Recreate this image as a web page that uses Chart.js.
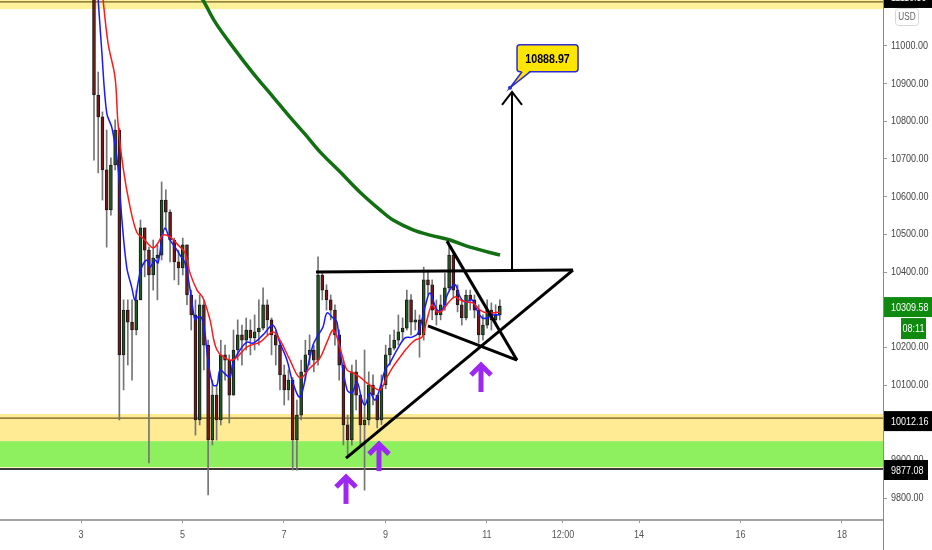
<!DOCTYPE html>
<html>
<head>
<meta charset="utf-8">
<script src="https://cdn.jsdelivr.net/npm/chart.js@4.4.1/dist/chart.umd.min.js"></script>
<style>
  html, body { margin: 0; padding: 0; background: #fff; }
  #wrap { width: 932px; height: 550px; position: relative; }
</style>
</head>
<body>
<div id="wrap"><canvas id="c"></canvas></div>
<script>
// ---------- Datos ----------
// Eje de tiempo (días del mes) y de precio
const dateTicks = [3, 5, 7, 9, 11, 12.5, 14, 16, 18];
const dateLabels = ['3', '5', '7', '9', '11', '12:00', '14', '16', '18'];
const priceTicks = [9800, 9900, 10000, 10100, 10200, 10300, 10400, 10500, 10600, 10700, 10800, 10900, 11000];

// Velas de 2 horas: la apertura de cada vela es el cierre anterior
const candleStart = 3.256;
const candleStep = 1 / 12;
const firstOpen = 11202;
const closes = [10870, 10812, 10671, 10565, 10684, 10777, 10180, 10299, 10267, 10246,
  10326, 10517, 10458, 10392, 10437, 10445, 10591, 10559, 10485, 10427,
  10411, 10472, 10339, 10286, 10007, 10313, 10206, 9954, 10073, 10007,
  10180, 10166, 10073, 10193, 10233, 10219, 10246, 10225, 10241, 10251,
  10313, 10273, 10233, 10206, 10127, 10087, 10113, 9954, 10020, 10135,
  10180, 10193, 10166, 10392, 10352, 10326, 10299, 10233, 10153, 9994,
  9954, 10135, 10073, 9994, 10007, 10100, 10073, 10007, 10100, 10180,
  10198, 10219, 10241, 10251, 10326, 10267, 10273, 10233, 10379, 10366,
  10299, 10286, 10313, 10358, 10445, 10352, 10313, 10278, 10339, 10326,
  10299, 10233, 10259, 10299, 10273, 10286, 10309.58];
const highs = [11281, 10931, 10825, 10777, 10703, 10804, 10782, 10326, 10326, 10326,
  10352, 10538, 10517, 10466, 10485, 10472, 10639, 10618, 10565, 10490,
  10458, 10490, 10472, 10352, 10326, 10339, 10326, 10219, 10113, 10100,
  10219, 10206, 10180, 10246, 10273, 10259, 10278, 10273, 10286, 10326,
  10358, 10326, 10278, 10246, 10214, 10153, 10140, 10120, 10060, 10166,
  10219, 10233, 10206, 10440, 10400, 10366, 10339, 10313, 10246, 10166,
  10020, 10153, 10166, 10073, 10193, 10135, 10127, 10073, 10127, 10206,
  10233, 10246, 10286, 10278, 10352, 10340, 10299, 10286, 10413, 10405,
  10379, 10326, 10339, 10397, 10477, 10455, 10366, 10326, 10352, 10352,
  10339, 10313, 10286, 10326, 10318, 10313, 10326];
const lows = [10697, 10663, 10591, 10466, 10551, 10671, 10007, 10087, 10153, 10113,
  10233, 10326, 10387, 9893, 10352, 10326, 10432, 10512, 10427, 10379,
  10366, 10392, 10313, 10246, 9967, 9994, 10140, 9808, 9941, 9954,
  9994, 10113, 9999, 10073, 10166, 10153, 10193, 10180, 10193, 10206,
  10246, 10233, 10180, 10153, 10087, 10047, 10060, 9874, 9874, 10007,
  10113, 10153, 10135, 10153, 10326, 10299, 10273, 10206, 10113, 9941,
  9909, 9940, 10034, 9941, 9821, 9994, 10047, 9986, 9995, 10090,
  10153, 10193, 10206, 10219, 10246, 10233, 10246, 10174, 10219, 10339,
  10273, 10259, 10273, 10299, 10352, 10331, 10294, 10259, 10273, 10299,
  10278, 10211, 10219, 10251, 10246, 10259, 10273];

// Medias móviles
const blueDays = [3.32, 3.408, 3.507, 3.611, 3.729, 3.802, 3.901, 3.999, 4.064, 4.124,
  4.197, 4.301, 4.360, 4.459, 4.518, 4.591, 4.656, 4.754, 4.853, 4.952,
  5.050, 5.109, 5.182, 5.247, 5.306, 5.379, 5.444, 5.503, 5.602, 5.681,
  5.740, 5.858, 5.937, 5.996, 6.134, 6.272, 6.391, 6.588, 6.785, 6.923,
  7.061, 7.179, 7.317, 7.455, 7.573, 7.652, 7.770, 7.849, 7.967, 8.046,
  8.106, 8.244, 8.342, 8.441, 8.539, 8.598, 8.697, 8.796, 8.894, 8.993,
  9.091, 9.229, 9.387, 9.525, 9.643, 9.781, 9.880, 10.018, 10.116, 10.235,
  10.373, 10.472, 10.570, 10.708, 10.806, 10.905, 11.004, 11.122, 11.260];
const bluePrices = [11160, 10989, 10822, 10782, 10679, 10546, 10413, 10360, 10326, 10371,
  10413, 10432, 10413, 10432, 10424, 10485, 10517, 10485, 10466, 10445,
  10424, 10387, 10326, 10273, 10281, 10278, 10238, 10166, 10100, 10100,
  10140, 10127, 10121, 10159, 10193, 10214, 10211, 10233, 10259, 10211,
  10166, 10105, 10068, 10140, 10206, 10227, 10254, 10291, 10278, 10267,
  10193, 10087, 10079, 10108, 10060, 10047, 10079, 10060, 10092, 10140,
  10159, 10193, 10225, 10227, 10238, 10307, 10344, 10299, 10299, 10344,
  10366, 10334, 10320, 10326, 10299, 10278, 10278, 10286, 10286];
const redDays = [3.40, 3.532, 3.670, 3.729, 3.828, 3.966, 4.104, 4.222, 4.419, 4.518,
  4.616, 4.754, 4.912, 5.050, 5.149, 5.287, 5.405, 5.543, 5.681, 5.937,
  6.075, 6.272, 6.529, 6.785, 6.923, 7.120, 7.317, 7.514, 7.711, 7.849,
  7.967, 8.046, 8.145, 8.244, 8.362, 8.500, 8.638, 8.756, 8.894, 9.032,
  9.150, 9.288, 9.426, 9.584, 9.722, 9.820, 9.919, 10.018, 10.136, 10.235,
  10.373, 10.472, 10.610, 10.727, 10.865, 11.023, 11.260];
const redPrices = [11170, 11008, 10918, 10796, 10679, 10573, 10504, 10490, 10464, 10477,
  10498, 10493, 10472, 10451, 10397, 10352, 10331, 10273, 10193, 10166,
  10174, 10201, 10214, 10241, 10219, 10166, 10119, 10145, 10172, 10214,
  10246, 10227, 10180, 10140, 10132, 10121, 10105, 10095, 10087, 10121,
  10148, 10174, 10198, 10219, 10227, 10273, 10313, 10294, 10299, 10318,
  10334, 10326, 10320, 10318, 10299, 10291, 10294];
const greenDays = [5.149, 5.405, 5.641, 5.996, 6.391, 6.785, 7.120, 7.416, 7.711, 8.106,
  8.500, 8.894, 9.150, 9.544, 9.880, 10.274, 10.668, 11.260];
const greenPrices = [11175, 11122, 11064, 10997, 10928, 10865, 10811, 10766, 10719, 10666,
  10612, 10565, 10538, 10512, 10498, 10485, 10466, 10445];

// Dibujos: triángulo, bandera y flecha objetivo
const resistanceDays = [7.632, 12.698];
const resistancePrices = [10400, 10405];
const supportDays = [8.224, 12.698];
const supportPrices = [9906, 10405];
const flagTopDays = [10.214, 11.595];
const flagTopPrices = [10482, 10166];
const flagBottomDays = [9.840, 11.595];
const flagBottomPrices = [10257, 10166];
const targetArrowDays = [11.496, 11.496];
const targetArrowPrices = [10400, 10878];
const targetDay = 11.457;
const targetPrice = 10888.97;

// Flechas moradas (punta)
const upArrowDays = [8.224, 8.874, 10.885];
const upArrowPrices = [9864, 9951, 10161];

// Zonas y niveles
const zoneLows = [11098, 9951, 9882, 9877];
const zoneHighs = [11130, 10023, 9951, 9882];
const levelPrices = [11116.89, 10012.16, 9877.08];
const tagPrices = [11116.89, 10309.58, 10012.16, 9877.08];
const countdownText = '08:11';

// ---------- Estilos ----------
const FONT = '"Liberation Sans", Arial, sans-serif';
const NARROW = 0.82; // la fuente del original es estrecha
const zoneColors = ['#fff09a', '#ffeb94', '#8ef05e', '#fff3b8'];
const levelColors = ['#6f5f1f', '#6f5a22', '#3a3a3a'];
const levelWidths = [1.2, 1.2, 2];
const tagColors = ['#000', '#0f8a0f', '#000', '#000'];
const tagWidths = [49, 49, 49, 44];
const tagNudges = [-4, 1, 3, 1];
const PURPLE = '#9d27f5';

Chart.defaults.font.family = FONT;

const opens = closes.map(function (c, i) { return i === 0 ? firstOpen : closes[i - 1]; });
const times = closes.map(function (c, i) { return candleStart + i * candleStep; });
const isUp = closes.map(function (c, i) { return c >= opens[i]; });

function pts(days, prices) {
  return days.map(function (d, i) { return { x: d, y: prices[i] }; });
}
function drawLine(data, width, order) {
  return { type: 'line', data: data, borderColor: '#000', borderWidth: width,
    pointRadius: 0, fill: false, tension: 0, order: order };
}
function emaLine(data, color, width) {
  return { type: 'line', data: data, borderColor: color, borderWidth: width,
    pointRadius: 0, fill: false, tension: 0.35, order: 1 };
}
// texto estrecho: se comprime en horizontal
function narrowText(ctx, text, x, y, align) {
  ctx.save();
  ctx.translate(x, y);
  ctx.scale(NARROW, 1);
  ctx.textAlign = align;
  ctx.fillText(text, 0, 0);
  ctx.restore();
}

// ---------- Plugins ----------
const bandsPlugin = {
  id: 'bands',
  beforeDatasetsDraw: function (chart) {
    var ctx = chart.ctx, a = chart.chartArea, y = chart.scales.y;
    ctx.save();
    ctx.beginPath(); ctx.rect(a.left, a.top, a.right - a.left, a.bottom - a.top); ctx.clip();
    zoneLows.forEach(function (lo, i) {
      var y1 = y.getPixelForValue(zoneHighs[i]), y2 = y.getPixelForValue(lo);
      ctx.fillStyle = zoneColors[i];
      ctx.fillRect(a.left, y1, a.right - a.left, y2 - y1);
    });
    levelPrices.forEach(function (p, i) {
      var py = y.getPixelForValue(p);
      ctx.strokeStyle = levelColors[i]; ctx.lineWidth = levelWidths[i];
      ctx.beginPath(); ctx.moveTo(a.left, py); ctx.lineTo(a.right, py); ctx.stroke();
    });
    ctx.restore();
  }
};

const overlayPlugin = {
  id: 'overlay',
  afterDatasetsDraw: function (chart) {
    var ctx = chart.ctx, x = chart.scales.x, y = chart.scales.y;
    ctx.save();
    // punta de la flecha objetivo
    var tx = x.getPixelForValue(targetArrowDays[1]), ty = y.getPixelForValue(targetArrowPrices[1]);
    ctx.strokeStyle = '#000'; ctx.lineWidth = 2;
    ctx.beginPath(); ctx.moveTo(tx - 10, ty + 13); ctx.lineTo(tx, ty); ctx.lineTo(tx + 10, ty + 13); ctx.stroke();

    // flechas moradas
    ctx.strokeStyle = PURPLE; ctx.lineWidth = 5; ctx.lineJoin = 'miter'; ctx.lineCap = 'butt';
    upArrowDays.forEach(function (d, i) {
      var cx = x.getPixelForValue(d), cy = y.getPixelForValue(upArrowPrices[i]);
      ctx.beginPath(); ctx.moveTo(cx, cy + 3); ctx.lineTo(cx, cy + 30); ctx.stroke();
      ctx.beginPath(); ctx.moveTo(cx - 10, cy + 13); ctx.lineTo(cx, cy + 3); ctx.lineTo(cx + 10, cy + 13); ctx.stroke();
    });

    // etiqueta del objetivo
    var ax = x.getPixelForValue(targetDay), ay = y.getPixelForValue(targetPrice);
    var bx = ax + 7, by = ay - 43, bw = 61, bh = 27;
    ctx.lineWidth = 1.5; ctx.strokeStyle = '#2b2bd1'; ctx.fillStyle = '#ffe500';
    ctx.beginPath(); ctx.roundRect(bx, by, bw, bh, 3); ctx.fill(); ctx.stroke();
    ctx.beginPath(); ctx.moveTo(bx + 5, by + bh - 1); ctx.lineTo(ax, ay); ctx.lineTo(bx + 13, by + bh - 1); ctx.closePath(); ctx.fill();
    ctx.beginPath(); ctx.moveTo(bx + 5, by + bh); ctx.lineTo(ax, ay); ctx.lineTo(bx + 13, by + bh); ctx.stroke();
    ctx.fillStyle = '#2b2bd1';
    ctx.beginPath(); ctx.arc(ax, ay, 2, 0, Math.PI * 2); ctx.fill();
    ctx.fillStyle = '#000'; ctx.font = 'bold 13px ' + FONT; ctx.textBaseline = 'middle';
    narrowText(ctx, targetPrice.toFixed(2), bx + bw / 2, by + bh / 2 + 1, 'center');
    ctx.restore();
  },
  afterDraw: function (chart) {
    var ctx = chart.ctx, a = chart.chartArea, x = chart.scales.x, y = chart.scales.y;
    ctx.save();
    // ejes
    ctx.strokeStyle = '#a3a3a3'; ctx.lineWidth = 2;
    ctx.beginPath(); ctx.moveTo(0, a.bottom + 1); ctx.lineTo(a.right, a.bottom + 1); ctx.stroke();
    ctx.strokeStyle = '#8a8a8a'; ctx.lineWidth = 1;
    ctx.beginPath(); ctx.moveTo(a.right + 0.5, 0); ctx.lineTo(a.right + 0.5, chart.height); ctx.stroke();

    // rótulos de los ejes
    ctx.font = '11px ' + FONT; ctx.textBaseline = 'middle';
    ctx.fillStyle = '#444';
    y.ticks.forEach(function (t) {
      narrowText(ctx, t.value.toFixed(2), a.right + 8, y.getPixelForValue(t.value), 'left');
    });
    ctx.fillStyle = '#555';
    x.ticks.forEach(function (t, i) {
      narrowText(ctx, dateLabels[i], x.getPixelForValue(t.value), a.bottom + 16, 'center');
    });

    // etiquetas de precio
    tagPrices.forEach(function (p, i) {
      var py = y.getPixelForValue(p) + tagNudges[i];
      ctx.fillStyle = tagColors[i];
      ctx.fillRect(a.right + 1, py - 10, tagWidths[i], 20);
      ctx.fillStyle = '#fff';
      narrowText(ctx, p.toFixed(2), a.right + 8, py + 0.5, 'left');
      if (i === 1) {
        ctx.fillStyle = tagColors[i];
        ctx.fillRect(a.right + 18, py + 11, 25, 21);
        ctx.fillStyle = '#fff';
        narrowText(ctx, countdownText, a.right + 30.5, py + 22, 'center');
      }
    });

    // moneda
    ctx.fillStyle = '#fff'; ctx.strokeStyle = '#d6d6d6'; ctx.lineWidth = 1;
    ctx.beginPath(); ctx.roundRect(a.right + 12.5, 8.5, 23, 17, 3); ctx.fill(); ctx.stroke();
    ctx.fillStyle = '#666'; ctx.font = '10px ' + FONT;
    narrowText(ctx, 'USD', a.right + 24, 17.5, 'center');
    ctx.restore();
  }
};

// ---------- Gráfico ----------
new Chart(document.getElementById('c'), {
  type: 'bar',
  data: {
    datasets: [
      drawLine(pts(resistanceDays, resistancePrices), 3, 0),
      drawLine(pts(supportDays, supportPrices), 3, 0),
      drawLine(pts(flagTopDays, flagTopPrices), 3, 0),
      drawLine(pts(flagBottomDays, flagBottomPrices), 3, 0),
      drawLine(pts(targetArrowDays, targetArrowPrices), 2, 0),
      emaLine(pts(greenDays, greenPrices), '#127012', 3.5),
      emaLine(pts(redDays, redPrices), '#ff1a1a', 1.5),
      emaLine(pts(blueDays, bluePrices), '#1a1aff', 1.5),
      {
        label: 'cuerpos',
        data: times.map(function (t, i) { return { x: t, y: [opens[i], closes[i]] }; }),
        backgroundColor: isUp.map(function (u) { return u ? '#1f5a1f' : '#7a1616'; }),
        borderColor: '#1a1a1a', borderWidth: 1, borderSkipped: false,
        barThickness: 3, minBarLength: 1, grouped: false, order: 2
      },
      {
        label: 'mechas',
        data: times.map(function (t, i) { return { x: t, y: [lows[i], highs[i]] }; }),
        backgroundColor: '#747474', borderWidth: 0,
        barThickness: 1, grouped: false, order: 3
      }
    ]
  },
  options: {
    responsive: true,
    maintainAspectRatio: false,
    animation: false,
    events: [],
    layout: { padding: 0 },
    plugins: { legend: { display: false }, tooltip: { enabled: false } },
    scales: {
      x: {
        type: 'linear', min: 1.4033, max: 18.809, offset: false,
        grid: { drawOnChartArea: false, offset: false, color: '#999', tickLength: 4 },
        border: { display: false },
        ticks: { display: false },
        afterBuildTicks: function (s) { s.ticks = dateTicks.map(function (v) { return { value: v }; }); },
        afterFit: function (s) { s.height = 31; s.paddingLeft = 0; s.paddingRight = 0; }
      },
      y: {
        type: 'linear', position: 'right', min: 9744.3, max: 11122.1,
        grid: { drawOnChartArea: false, offset: false, color: '#999', tickLength: 4 },
        border: { display: false },
        ticks: { display: false },
        afterBuildTicks: function (s) { s.ticks = priceTicks.map(function (v) { return { value: v }; }); },
        afterFit: function (s) { s.width = 49; s.paddingTop = 0; s.paddingBottom = 0; }
      }
    }
  },
  plugins: [bandsPlugin, overlayPlugin]
});
</script>
</body>
</html>
